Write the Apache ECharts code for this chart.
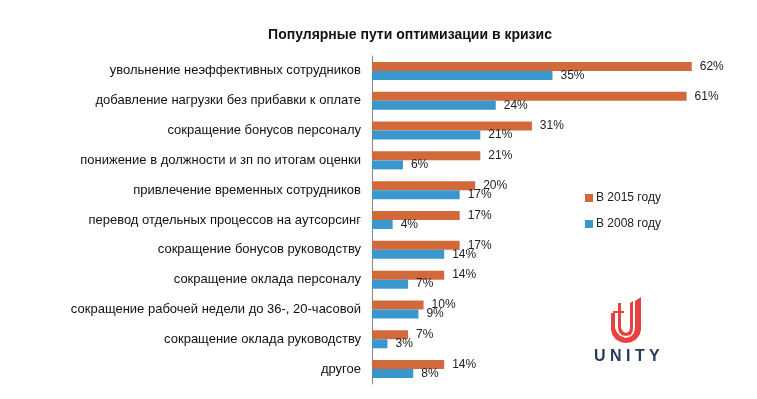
<!DOCTYPE html>
<html>
<head>
<meta charset="utf-8">
<script src="https://cdn.jsdelivr.net/npm/echarts@6/dist/echarts.min.js"></script>
<style>
  html, body { margin: 0; padding: 0; background: #fff; }
  #chart { width: 757px; height: 399px; }
</style>
</head>
<body>
<div id="chart"></div>
<script>
var categories = [
    'увольнение неэффективных сотрудников',
    'добавление нагрузки без прибавки к оплате',
    'сокращение бонусов персоналу',
    'понижение в должности и зп по итогам оценки',
    'привлечение временных сотрудников',
    'перевод отдельных процессов на аутсорсинг',
    'сокращение бонусов руководству',
    'сокращение оклада персоналу',
    'сокращение рабочей недели до 36-, 20-часовой',
    'сокращение оклада руководству',
    'другое'
];
var values2015 = [62, 61, 31, 21, 20, 17, 17, 14, 10, 7, 14];
var values2008 = [35, 24, 21, 6, 17, 4, 14, 7, 9, 3, 8];
var seriesNames = ['В 2015 году', 'В 2008 году'];

var FONT = '"Liberation Sans", Arial, sans-serif';
var RED = '#E8413F';

var chart = echarts.init(document.getElementById('chart'));

var labelStyle = {
    show: true,
    position: 'right',
    distance: 8,
    formatter: '{c}%',
    fontFamily: FONT,
    fontSize: 12,
    color: '#222'
};

var option = {
    backgroundColor: '#fff',
    animation: false,
    title: {
        text: 'Популярные пути оптимизации в кризис',
        left: 405,
        textAlign: 'center',
        top: 23,
        textStyle: { fontFamily: FONT, fontSize: 14, fontWeight: 'bold', color: '#111' }
    },
    legend: {
        orient: 'vertical',
        left: 585,
        top: 192,
        padding: 0,
        itemWidth: 8,
        itemHeight: 8,
        itemGap: 14,
        icon: 'rect',
        textStyle: { fontFamily: FONT, fontSize: 12, color: '#222', padding: [0, 0, 0, -2] },
        data: seriesNames
    },
    grid: { left: 372, top: 56, bottom: 15, right: 24 },
    xAxis: {
        type: 'value',
        min: 0,
        max: 70,
        show: false
    },
    yAxis: {
        type: 'category',
        inverse: true,
        data: categories,
        axisLine: { lineStyle: { color: '#888' } },
        axisTick: { show: false },
        axisLabel: { fontFamily: FONT, fontSize: 13, color: '#111', margin: 11 }
    },
    series: [
        {
            name: seriesNames[0],
            type: 'bar',
            data: values2015,
            barWidth: 9,
            barGap: '0%',
            itemStyle: { color: '#D2693B' },
            label: labelStyle
        },
        {
            name: seriesNames[1],
            type: 'bar',
            data: values2008,
            barWidth: 9,
            itemStyle: { color: '#3A97CE' },
            label: labelStyle
        }
    ],
    graphic: [
        // logo: outer U
        {
            type: 'polygon',
            shape: { points: [[611, 313], [611, 330], [612.5, 335], [616, 339.5], [621, 342.3], [626, 343],
                [631, 342.3], [636, 339.5], [639.5, 335], [641, 330], [641, 297], [635, 301], [635, 328],
                [634, 332.5], [631.5, 336], [626, 338], [620.5, 336], [617, 332.5], [615, 328], [615, 313]] },
            style: { fill: RED }
        },
        // logo: inner U
        {
            type: 'polygon',
            shape: { points: [[618, 303], [618, 328], [619, 332], [621.5, 335], [626, 336], [630.5, 335],
                [632.5, 332], [633, 328], [633, 301], [630, 303], [630, 328], [629, 331.5], [626, 333],
                [623, 331.5], [621, 328], [621, 303]] },
            style: { fill: RED }
        },
        {
            type: 'rect',
            shape: { x: 613, y: 311, width: 11, height: 2 },
            style: { fill: RED }
        },
        {
            type: 'text',
            left: 594,
            top: 349,
            style: { text: 'U N I T Y', fontFamily: FONT, fontSize: 16, fontWeight: 'bold', fill: '#263A5A' }
        }
    ]
};

chart.setOption(option);
</script>
</body>
</html>
